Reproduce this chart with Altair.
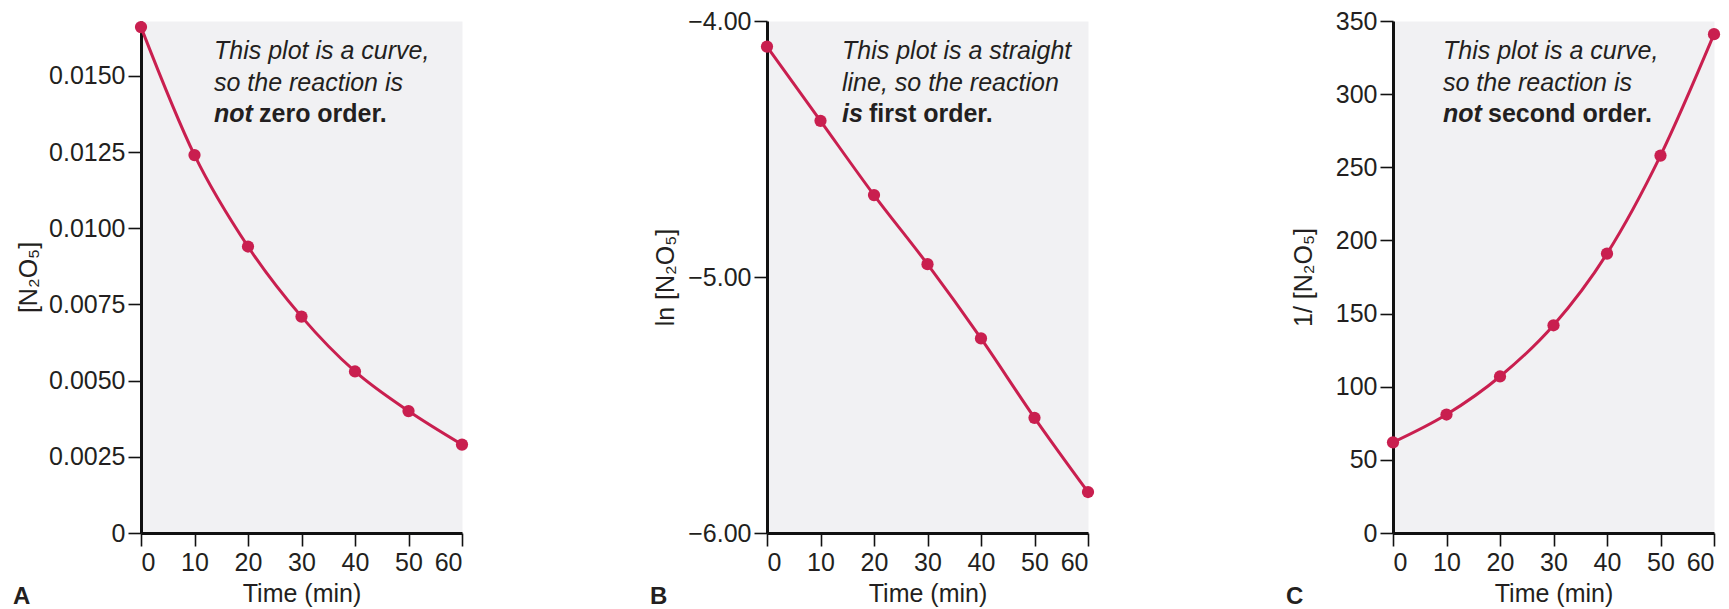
import altair as alt
import pandas as pd

# ---- data ----
times = [0, 10, 20, 30, 40, 50, 60]
conc = [0.0166, 0.0124, 0.0094, 0.0071, 0.0053, 0.0040, 0.0029]
ln_conc = [-4.10, -4.39, -4.68, -4.95, -5.24, -5.55, -5.84]
inv_conc = [62, 81, 107, 142, 191, 258, 341]

x_ticks = [0, 10, 20, 30, 40, 50, 60]
a_ticks = [0, 0.0025, 0.0050, 0.0075, 0.0100, 0.0125, 0.0150]
b_ticks = [-6.0, -5.0, -4.0]
c_ticks = [0, 50, 100, 150, 200, 250, 300, 350]

y_titles = ["[N₂O₅]", "ln [N₂O₅]", "1/ [N₂O₅]"]
panel_letters = ["A", "B", "C"]
notes_a = ["This plot is a curve,", "so the reaction is", "not", "zero order."]
notes_b = ["This plot is a straight", "line, so the reaction", "is", "first order."]
notes_c = ["This plot is a curve,", "so the reaction is", "not", "second order."]

FONT = "Liberation Sans"
INK = "#231f20"
RED = "#c91f4f"
W, H = 321, 512


def one(text):
    return alt.Data(values=[{"t": text}])


def panel(values, domain, ticks, label_expr, ytitle, title_x, letter, letter_x,
          notes, note_x, bold_offset):
    df = pd.DataFrame({"time": times, "value": values})
    x = alt.X("time:Q", scale=alt.Scale(domain=[0, 60], nice=False, zero=False),
              axis=alt.Axis(values=x_ticks, title="Time (min)", format="d"))
    y = alt.Y("value:Q", scale=alt.Scale(domain=domain, nice=False, zero=False),
              axis=alt.Axis(values=ticks, title=ytitle, labelExpr=label_expr,
                            titleX=title_x, titleY=H / 2, titleAngle=270,
                            titleBaseline="middle", titleAlign="center"))
    base = alt.Chart(df)
    line = base.mark_line(color=RED, strokeWidth=3, interpolate="monotone").encode(x=x, y=y)
    pts = base.mark_circle(color=RED, opacity=1, size=150).encode(x=x, y=y)

    def txt(s, xx, yy, style, weight):
        return alt.Chart(one(s)).mark_text(
            align="left", baseline="alphabetic", font=FONT, fontSize=25,
            fontStyle=style, fontWeight=weight, color=INK
        ).encode(text="t:N", x=alt.value(xx), y=alt.value(yy))

    layers = [
        line, pts,
        txt(notes[0], note_x, 38, "italic", "normal"),
        txt(notes[1], note_x, 70, "italic", "normal"),
        txt(notes[2], note_x, 101, "italic", "bold"),
        txt(notes[3], note_x + bold_offset, 101, "normal", "bold"),
        alt.Chart(one(letter)).mark_text(
            align="left", baseline="alphabetic", font=FONT, fontSize=24,
            fontWeight="bold", color=INK
        ).encode(text="t:N", x=alt.value(letter_x), y=alt.value(583)),
    ]
    return alt.layer(*layers).properties(width=W, height=H)


pa = panel(conc, [0, 0.0168], a_ticks,
           "datum.value == 0 ? '0' : format(datum.value, '.4f')",
           y_titles[0], -113, panel_letters[0], -128, notes_a, 73, 45)
pb = panel(ln_conc, [-6, -4], b_ticks,
           "format(datum.value, '.2f')",
           y_titles[1], -102, panel_letters[1], -117, notes_b, 75, 27)
pc = panel(inv_conc, [0, 350], c_ticks,
           "format(datum.value, 'd')",
           y_titles[2], -90, panel_letters[2], -107, notes_c, 50, 45)

chart = alt.concat(pa, pb, pc, columns=3, spacing=180, align="all").properties(
    padding={"left": 4, "top": 0, "right": 0, "bottom": 0}
).configure_view(
    stroke="transparent", fill="#f1f1f3"
).configure_axis(
    labelFont=FONT, titleFont=FONT, labelFontSize=25, titleFontSize=25,
    labelColor=INK, titleColor=INK, titleFontWeight="normal",
    domainColor="#111111", domainWidth=3, tickColor="#111111", tickWidth=1.6,
    tickSize=13, grid=False, labelPadding=3
).configure_axisX(
    labelPadding=4, titlePadding=6
)

chart.save("out.html", embed_options={"renderer": "svg", "actions": False})
